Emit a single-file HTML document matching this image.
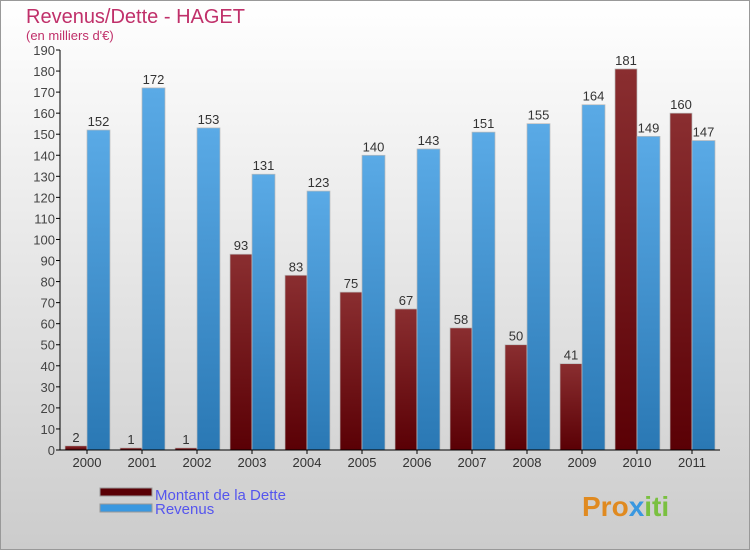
<!DOCTYPE html>
<html><head><meta charset="utf-8"><style>
body{margin:0;width:750px;height:550px;overflow:hidden;font-family:"Liberation Sans",sans-serif}
</style></head><body>
<svg width="750" height="550" xmlns="http://www.w3.org/2000/svg">
<defs>
<linearGradient id="bg" x1="0" y1="0" x2="0" y2="1"><stop offset="0" stop-color="#ffffff"/><stop offset="1" stop-color="#cccccc"/></linearGradient>
<linearGradient id="gd" x1="0" y1="0" x2="0" y2="1"><stop offset="0" stop-color="#8a2e30"/><stop offset="1" stop-color="#5a0005"/></linearGradient>
<linearGradient id="gr" x1="0" y1="0" x2="0" y2="1"><stop offset="0" stop-color="#5aaae6"/><stop offset="1" stop-color="#2a78b4"/></linearGradient>
</defs>
<rect x="0.5" y="0.5" width="749" height="549" fill="url(#bg)" stroke="#999"/>
<text x="26" y="23" font-size="20" fill="#c0306a">Revenus/Dette - HAGET</text>
<text x="26" y="40" font-size="13" fill="#c0306a">(en milliers d'€)</text>
<g id="plot"></g>
<g>
<rect x="100" y="488" width="52" height="8" fill="#5a0005" stroke="#999"/>
<text x="155" y="500" font-size="15" fill="#5555ee">Montant de la Dette</text>
<rect x="100" y="504" width="52" height="8" fill="#3a98e0" stroke="#999"/>
<text x="155" y="514" font-size="15" fill="#5555ee">Revenus</text>
</g>
<text x="582" y="516" font-size="28" font-weight="bold" fill="#e08a20">Pro<tspan fill="#3a98e0">x</tspan><tspan fill="#7ac040">iti</tspan></text>
</svg>
<script>
const years=["2000","2001","2002","2003","2004","2005","2006","2007","2008","2009","2010","2011"];
const dette=[2,1,1,93,83,75,67,58,50,41,181,160];
const revenus=[152,172,153,131,123,140,143,151,155,164,149,147];
const yTicks=[0,10,20,30,40,50,60,70,80,90,100,110,120,130,140,150,160,170,180,190];
const NS="http://www.w3.org/2000/svg";
const g=document.getElementById('plot');
const x0=60,y0=450,yTop=50,gw=55;
const ys=v=>y0-v*(y0-yTop)/190;
function mk(t,a,txt){const e=document.createElementNS(NS,t);for(const k in a)e.setAttribute(k,a[k]);if(txt!==undefined)e.textContent=txt;g.appendChild(e);return e;}
yTicks.forEach(v=>{
 const l=mk('line',{x1:x0-4,x2:x0,y1:ys(v),y2:ys(v),stroke:'#000'});
 
 
 const t=mk('text',{x:x0-5,y:ys(v)+5,'font-size':13,fill:'#444','text-anchor':'end'},v);
 
 
});
years.forEach((yr,i)=>{
 const s=x0+gw*i;
 const b1=mk('rect',{x:s+5,y:ys(dette[i]),width:22,height:y0-ys(dette[i]),fill:'url(#gd)',stroke:'#bbb','stroke-width':0.7});
 
 
 const b2=mk('rect',{x:s+27,y:ys(revenus[i]),width:23,height:y0-ys(revenus[i]),fill:'url(#gr)',stroke:'#bbb','stroke-width':0.7});
 
 
 const v1=mk('text',{x:s+16,y:ys(dette[i])-4,'font-size':13,fill:'#333','text-anchor':'middle'},dette[i]);
 
 
 const v2=mk('text',{x:s+38.5,y:ys(revenus[i])-4,'font-size':13,fill:'#333','text-anchor':'middle'},revenus[i]);
 
 
 const tk=mk('line',{x1:s+27,x2:s+27,y1:y0,y2:y0+4,stroke:'#000'});
 
 
 const xl=mk('text',{x:s+27,y:y0+17,'font-size':13,fill:'#333','text-anchor':'middle'},yr);
 
 
});
const ya=mk('line',{x1:x0,x2:x0,y1:yTop,y2:y0,stroke:'#000'});


const xa=mk('line',{x1:x0,x2:x0+gw*12,y1:y0,y2:y0,stroke:'#000'});


</script>
</body></html>
